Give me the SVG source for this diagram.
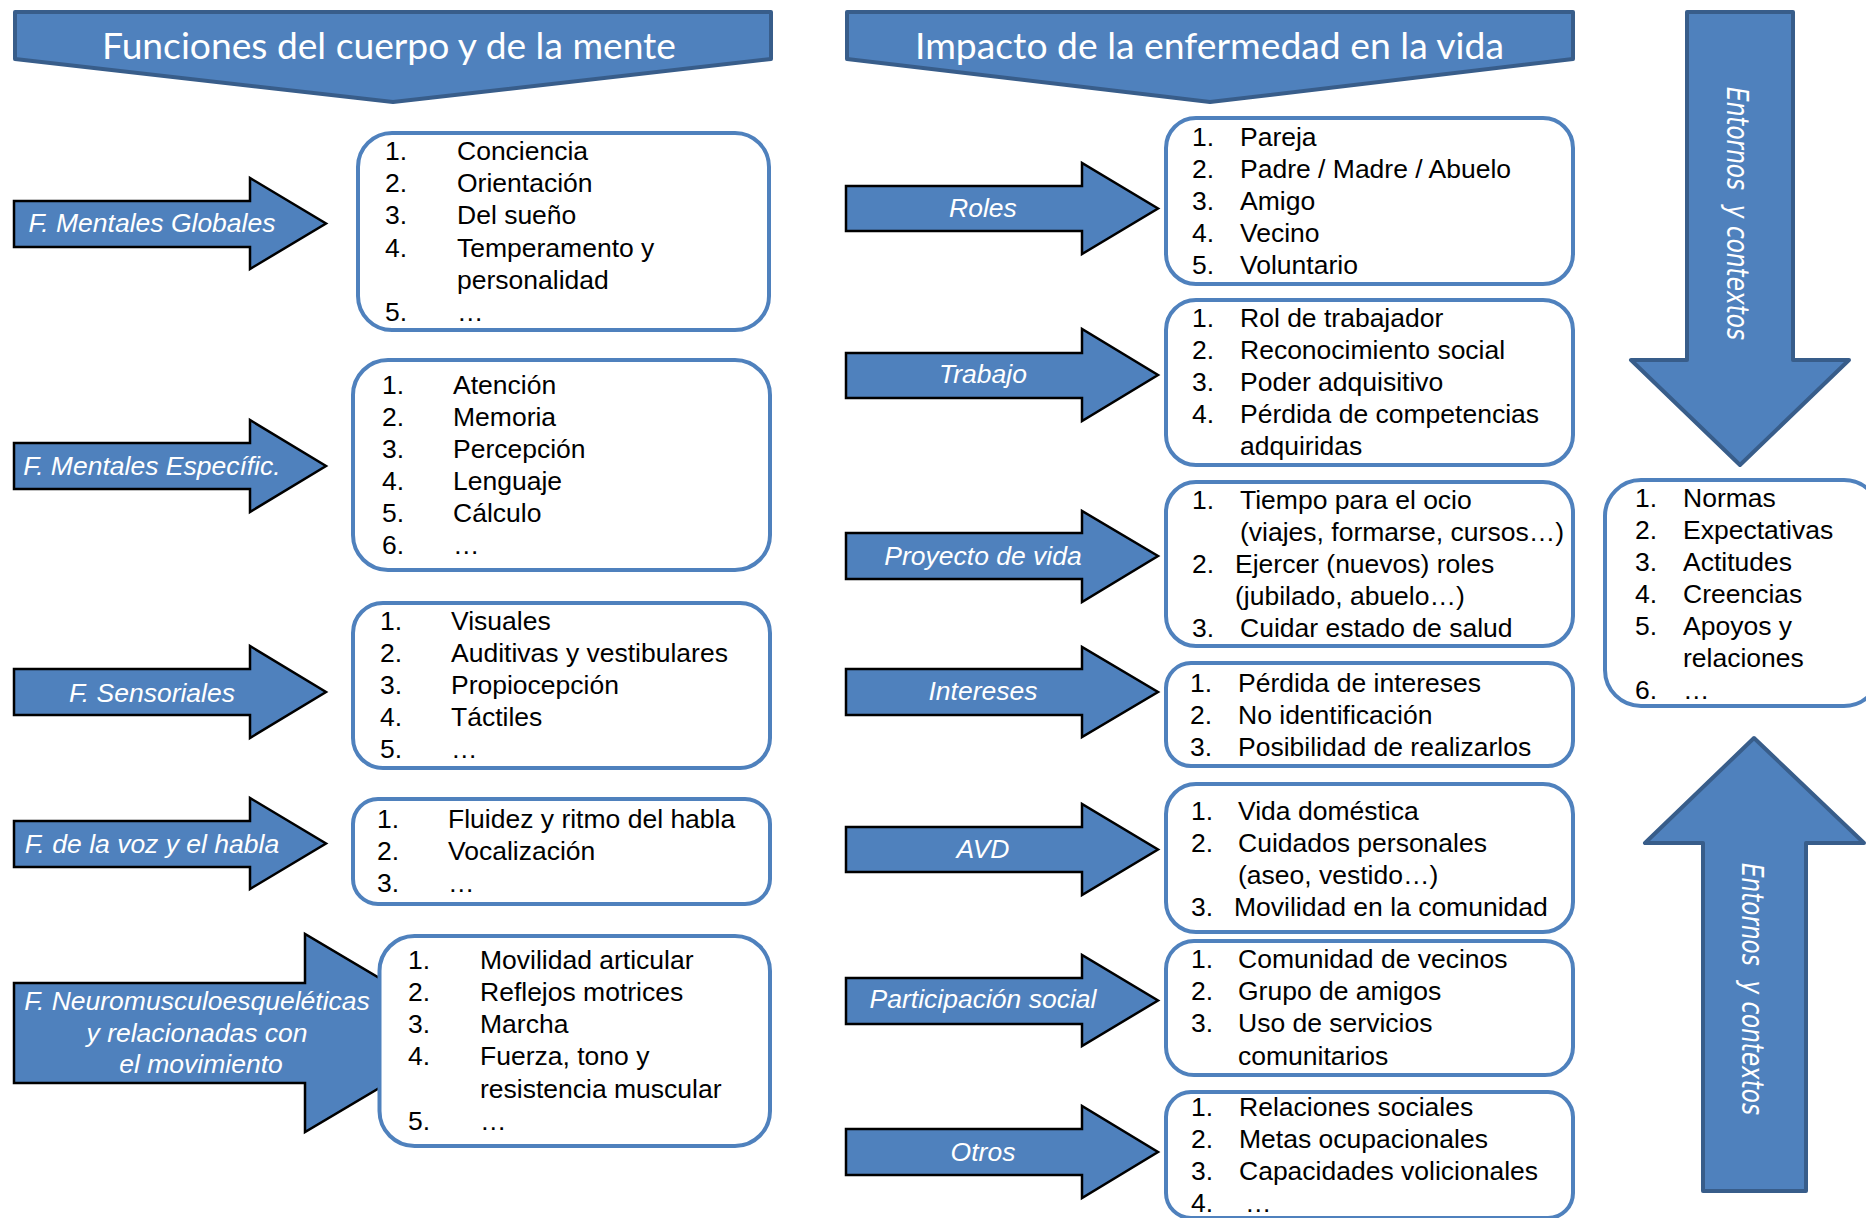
<svg xmlns="http://www.w3.org/2000/svg" width="1866" height="1218" viewBox="0 0 1866 1218">
<style>
.arr{fill:#4F81BD;stroke:#000;stroke-width:2.5;stroke-linejoin:miter}
.big{fill:#4F81BD;stroke:#385D8A;stroke-width:4;stroke-linejoin:round}
.box{fill:#fff;stroke:#4F81BD;stroke-width:4}
.t{font-family:"Liberation Sans",Arial,sans-serif;font-size:26.5px;fill:#000}
.lab{font-family:"Liberation Sans",Arial,sans-serif;font-style:italic;font-size:26.5px;fill:#fff;text-anchor:middle}
.title{font-family:Lato,"Liberation Sans",sans-serif;font-size:36px;fill:#fff}
.vert{font-family:"DejaVu Sans",sans-serif;font-style:oblique;font-size:31px;fill:#fff;white-space:pre}
</style>
<rect width="1866" height="1218" fill="#fff"/>
<g id="connectors">
  <g id="a-globales"><path class="arr" d="M14,201 H250 V178 L326,223.5 L250,269 V247 H14 Z"/><text class="lab" x="152" y="232">F. Mentales Globales</text></g>
  <g id="a-especific"><path class="arr" d="M14,443 H250 V420 L326,466 L250,512 V489 H14 Z"/><text class="lab" x="152" y="475">F. Mentales Específic.</text></g>
  <g id="a-sensoriales"><path class="arr" d="M14,669 H250 V646 L326,692 L250,738 V715 H14 Z"/><text class="lab" x="152" y="702">F. Sensoriales</text></g>
  <g id="a-voz"><path class="arr" d="M14,821 H250 V798 L326,843.5 L250,889 V867 H14 Z"/><text class="lab" x="152" y="853">F. de la voz y el habla</text></g>
  <g id="a-neuro"><path class="arr" d="M14,983 H305 V934 L472,1033 L305,1132 V1083 H14 Z"/><text class="lab" x="197" y="1010">F. Neuromusculoesqueléticas</text><text class="lab" x="197" y="1042">y relacionadas con</text><text class="lab" x="201" y="1073">el movimiento</text></g>
  <g id="a-roles"><path class="arr" d="M846,186 H1082 V163 L1158,208.5 L1082,254 V231 H846 Z"/><text class="lab" x="983" y="217">Roles</text></g>
  <g id="a-trabajo"><path class="arr" d="M846,353 H1082 V329 L1158,375 L1082,421 V398 H846 Z"/><text class="lab" x="983" y="383">Trabajo</text></g>
  <g id="a-proyecto"><path class="arr" d="M846,533 H1082 V511 L1158,556 L1082,602 V579 H846 Z"/><text class="lab" x="983" y="565">Proyecto de vida</text></g>
  <g id="a-intereses"><path class="arr" d="M846,669 H1082 V647 L1158,692 L1082,737 V715 H846 Z"/><text class="lab" x="983" y="700">Intereses</text></g>
  <g id="a-avd"><path class="arr" d="M846,827 H1082 V804 L1158,849.5 L1082,895 V872 H846 Z"/><text class="lab" x="983" y="858">AVD</text></g>
  <g id="a-participacion"><path class="arr" d="M846,978 H1082 V955 L1158,1000.5 L1082,1046 V1024 H846 Z"/><text class="lab" x="983" y="1008">Participación social</text></g>
  <g id="a-otros"><path class="arr" d="M846,1129 H1082 V1106 L1158,1152 L1082,1198 V1175 H846 Z"/><text class="lab" x="983" y="1161">Otros</text></g>
</g>
<g id="banner-funciones">
  <path class="big" d="M15,12 H771 V59 L393,102 L15,59 Z"/>
  <text class="title" x="102" y="59" textLength="574" lengthAdjust="spacingAndGlyphs">Funciones del cuerpo y de la mente</text>
</g>
<g id="banner-impacto">
  <path class="big" d="M847,12 H1573 V59 L1210,102 L847,59 Z"/>
  <text class="title" x="915" y="59" textLength="589" lengthAdjust="spacingAndGlyphs">Impacto de la enfermedad en la vida</text>
</g>
<g id="arrow-entornos-down">
  <path class="big" d="M1687,12 H1793 V360 H1849 L1740,465 L1631,360 H1687 Z"/>
  <text class="vert" transform="translate(1727,87) rotate(90)" textLength="253" lengthAdjust="spacingAndGlyphs">Entornos  y contextos</text>
</g>
<g id="arrow-entornos-up">
  <path class="big" d="M1703,1191 H1806 V843 H1864 L1754,738 L1645,843 H1703 Z"/>
  <text class="vert" transform="translate(1742,863) rotate(90)" textLength="252" lengthAdjust="spacingAndGlyphs">Entornos  y contextos</text>
</g>
<g id="box-globales">
  <rect class="box" x="358" y="133" width="411" height="197" rx="34"/>
  <g class="t"><text x="385" y="160">1.</text><text x="457" y="160">Conciencia</text>
  <text x="385" y="192">2.</text><text x="457" y="192">Orientación</text>
  <text x="385" y="224">3.</text><text x="457" y="224">Del sueño</text>
  <text x="385" y="257">4.</text><text x="457" y="257">Temperamento y</text>
  <text x="457" y="289">personalidad</text>
  <text x="385" y="321">5.</text><text x="457" y="321">…</text></g>
</g>
<g id="box-especific">
  <rect class="box" x="353" y="360" width="417" height="210" rx="35"/>
  <g class="t"><text x="382" y="394">1.</text><text x="453" y="394">Atención</text>
  <text x="382" y="426">2.</text><text x="453" y="426">Memoria</text>
  <text x="382" y="458">3.</text><text x="453" y="458">Percepción</text>
  <text x="382" y="490">4.</text><text x="453" y="490">Lenguaje</text>
  <text x="382" y="522">5.</text><text x="453" y="522">Cálculo</text>
  <text x="382" y="554">6.</text><text x="453" y="554">…</text></g>
</g>
<g id="box-sensoriales">
  <rect class="box" x="353" y="603" width="417" height="165" rx="30"/>
  <g class="t"><text x="380" y="630">1.</text><text x="451" y="630">Visuales</text>
  <text x="380" y="662">2.</text><text x="451" y="662">Auditivas y vestibulares</text>
  <text x="380" y="694">3.</text><text x="451" y="694">Propiocepción</text>
  <text x="380" y="726">4.</text><text x="451" y="726">Táctiles</text>
  <text x="380" y="758">5.</text><text x="451" y="758">…</text></g>
</g>
<g id="box-voz">
  <rect class="box" x="353" y="799" width="417" height="105" rx="25"/>
  <g class="t"><text x="377" y="828">1.</text><text x="448" y="828">Fluidez y ritmo del habla</text>
  <text x="377" y="860">2.</text><text x="448" y="860">Vocalización</text>
  <text x="377" y="892">3.</text><text x="448" y="892">…</text></g>
</g>
<g id="box-neuro">
  <rect class="box" x="379.5" y="936" width="390.5" height="210" rx="35"/>
  <g class="t"><text x="408" y="969">1.</text><text x="480" y="969">Movilidad articular</text>
  <text x="408" y="1001">2.</text><text x="480" y="1001">Reflejos motrices</text>
  <text x="408" y="1033">3.</text><text x="480" y="1033">Marcha</text>
  <text x="408" y="1065">4.</text><text x="480" y="1065">Fuerza, tono y</text>
  <text x="480" y="1098">resistencia muscular</text>
  <text x="408" y="1130">5.</text><text x="480" y="1130">…</text></g>
</g>
<g id="box-roles">
  <rect class="box" x="1166" y="118" width="407" height="166" rx="30"/>
  <g class="t"><text x="1192" y="146">1.</text><text x="1240" y="146">Pareja</text>
  <text x="1192" y="178">2.</text><text x="1240" y="178">Padre / Madre / Abuelo</text>
  <text x="1192" y="210">3.</text><text x="1240" y="210">Amigo</text>
  <text x="1192" y="242">4.</text><text x="1240" y="242">Vecino</text>
  <text x="1192" y="274">5.</text><text x="1240" y="274">Voluntario</text></g>
</g>
<g id="box-trabajo">
  <rect class="box" x="1166" y="300" width="407" height="165" rx="30"/>
  <g class="t"><text x="1192" y="327">1.</text><text x="1240" y="327">Rol de trabajador</text>
  <text x="1192" y="359">2.</text><text x="1240" y="359">Reconocimiento social</text>
  <text x="1192" y="391">3.</text><text x="1240" y="391">Poder adquisitivo</text>
  <text x="1192" y="423">4.</text><text x="1240" y="423">Pérdida de competencias</text>
  <text x="1240" y="455">adquiridas</text></g>
</g>
<g id="box-proyecto">
  <rect class="box" x="1166" y="482" width="407" height="164" rx="30"/>
  <g class="t"><text x="1192" y="509">1.</text><text x="1240" y="509">Tiempo para el ocio</text>
  <text x="1240" y="541">(viajes, formarse, cursos…)</text>
  <text x="1192" y="573">2.</text><text x="1235" y="573">Ejercer (nuevos) roles</text>
  <text x="1235" y="605">(jubilado, abuelo…)</text>
  <text x="1192" y="637">3.</text><text x="1240" y="637">Cuidar estado de salud</text></g>
</g>
<g id="box-intereses">
  <rect class="box" x="1166" y="663" width="407" height="103" rx="25"/>
  <g class="t"><text x="1190" y="692">1.</text><text x="1238" y="692">Pérdida de intereses</text>
  <text x="1190" y="724">2.</text><text x="1238" y="724">No identificación</text>
  <text x="1190" y="756">3.</text><text x="1238" y="756">Posibilidad de realizarlos</text></g>
</g>
<g id="box-avd">
  <rect class="box" x="1166" y="784" width="407" height="148" rx="30"/>
  <g class="t"><text x="1191" y="820">1.</text><text x="1238" y="820">Vida doméstica</text>
  <text x="1191" y="852">2.</text><text x="1238" y="852">Cuidados personales</text>
  <text x="1238" y="884">(aseo, vestido…)</text>
  <text x="1191" y="916">3.</text><text x="1234" y="916">Movilidad en la comunidad</text></g>
</g>
<g id="box-participacion">
  <rect class="box" x="1166" y="941" width="407" height="134" rx="28"/>
  <g class="t"><text x="1191" y="968">1.</text><text x="1238" y="968">Comunidad de vecinos</text>
  <text x="1191" y="1000">2.</text><text x="1238" y="1000">Grupo de amigos</text>
  <text x="1191" y="1032">3.</text><text x="1238" y="1032">Uso de servicios</text>
  <text x="1238" y="1065">comunitarios</text></g>
</g>
<g id="box-otros">
  <rect class="box" x="1166" y="1092" width="407" height="126" rx="25"/>
  <g class="t"><text x="1191" y="1116">1.</text><text x="1239" y="1116">Relaciones sociales</text>
  <text x="1191" y="1148">2.</text><text x="1239" y="1148">Metas ocupacionales</text>
  <text x="1191" y="1180">3.</text><text x="1239" y="1180">Capacidades volicionales</text>
  <text x="1191" y="1212">4.</text><text x="1245" y="1212">…</text></g>
</g>
<g id="box-entornos">
  <rect class="box" x="1605" y="480" width="275" height="226" rx="36"/>
  <g class="t"><text x="1635" y="507">1.</text><text x="1683" y="507">Normas</text>
  <text x="1635" y="539">2.</text><text x="1683" y="539">Expectativas</text>
  <text x="1635" y="571">3.</text><text x="1683" y="571">Actitudes</text>
  <text x="1635" y="603">4.</text><text x="1683" y="603">Creencias</text>
  <text x="1635" y="635">5.</text><text x="1683" y="635">Apoyos y</text>
  <text x="1683" y="667">relaciones</text>
  <text x="1635" y="699">6.</text><text x="1683" y="699">…</text></g>
</g>
</svg>
